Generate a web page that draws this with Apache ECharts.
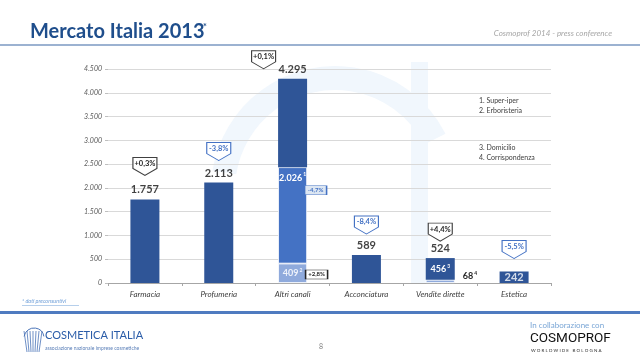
<!DOCTYPE html>
<html>
<head>
<meta charset="utf-8">
<script src="https://cdn.jsdelivr.net/npm/echarts@6/dist/echarts.min.js"></script>
<style>
  html, body { margin: 0; padding: 0; background: #fff; }
  #chart { width: 640px; height: 360px; }
</style>
</head>
<body>
<div id="chart"></div>
<script>
// dati (milioni di euro)
const categories = ['Farmacia', 'Profumeria', 'Altri canali', 'Acconciatura', 'Vendite dirette', 'Estetica'];
const darkValues = [1757, 2113, 1860, 589, 456, 242];
const midValues = [null, null, 2026, null, null, null];
const lightValues = [null, null, 409, null, 68, null];
const totals = [1757, 2113, 4295, 589, 524, 242];
const changes = ['+0,3%', '-3,8%', '+0,1%', '-8,4%', '+4,4%', '-5,5%'];
const darkNotes = [null, null, null, null, '3', null];
const midNotes = [null, null, '1', null, null, null];
const lightNotes = [null, null, '2', null, '4', null];
const subChanges = ['-4,7%', '+2,8%']; // Super-iper, Erboristeria
const notes = ['1. Super-iper', '2. Erboristeria', '3. Domicilio', '4. Corrispondenza'];

const DARK = '#2F5597';
const MID = '#4472C4';
const LIGHT = '#8FAADC';
const FONT = 'Lato';

const fmt = (v) => String(v).replace(/\B(?=(\d{3})+(?!\d))/g, '.');
const sup = { fontSize: 5, verticalAlign: 'top', padding: [0, 0, 6, 1] };

// label con esponente
const noteLabel = (val, note, opts) => ({
	show: true,
	fontFamily: FONT,
	fontWeight: 'bold',
	fontSize: 9,
	color: '#fff',
	formatter: '{v|' + fmt(val) + '}{s|' + note + '}',
	rich: {
		v: { fontSize: opts.fontSize || 9, fontWeight: 'bold', color: opts.color || '#fff', fontFamily: FONT },
		s: Object.assign({ color: opts.color || '#fff' }, sup),
	},
	...opts,
});

const darkData = darkValues.map((v, i) => {
	if (darkNotes[i]) return { value: v, label: noteLabel(v, darkNotes[i], { position: 'inside' }) };
	return v;
});
const midData = midValues.map((v, i) => {
	if (v == null) return null;
	return { value: v, label: noteLabel(v, midNotes[i], { position: 'insideTop', distance: 5 }) };
});
const lightData = lightValues.map((v, i) => {
	if (v == null) return null;
	if (i === 4) {
		return { value: v, label: noteLabel(v, lightNotes[i], { position: 'right', offset: [3, -5], color: '#262626', fontSize: 9 }) };
	}
	return { value: v, label: noteLabel(v, lightNotes[i], { position: 'inside', color: '#EEF2FA' }) };
});

// totali sopra le barre (Estetica dentro la barra)
const totalData = totals.map((v, i) => {
	if (i === 5) {
		return { value: v, label: { position: 'bottom', distance: 0, color: '#fff' } };
	}
	return v;
});

// badge a freccia (variazioni)
const badgeShift = [[0, -33], [0, -31], [-29, -19], [0, -30], [0, -26], [0, -22]];
const pentagon = 'path://M0 0H24V11L12 18L0 11Z';
const badges = changes.map((c, i) => {
	const neg = c.charAt(0) === '-';
	return {
		coord: [categories[i], totals[i]],
		symbol: pentagon,
		symbolSize: [24, 18],
		symbolOffset: badgeShift[i],
		itemStyle: { color: '#fff', borderColor: neg ? MID : '#404040', borderWidth: 1 },
		label: {
			show: true,
			position: 'inside',
			offset: [0, -3],
			formatter: c,
			fontFamily: FONT,
			fontSize: 7.5,
			fontWeight: 'bold',
			color: neg ? MID : '#262626',
		},
	};
});
// badge piccoli su Altri canali
const subBadges = [
	{ coord: [categories[2], lightValues[2] + midValues[2]], text: subChanges[0], off: [23, 23], neg: true },
	{ coord: [categories[2], lightValues[2]], text: subChanges[1], off: [24, 11], neg: false },
].map((b) => ({
	coord: b.coord,
	symbol: 'rect',
	symbolSize: [22, 9],
	symbolOffset: b.off,
	itemStyle: { color: b.neg ? '#DCE6F2' : '#fff', borderColor: b.neg ? MID : '#262626', borderWidth: 1 },
	label: {
		show: true,
		position: 'inside',
		formatter: b.text,
		fontFamily: FONT,
		fontSize: 6,
		fontWeight: 'bold',
		color: b.neg ? MID : '#262626',
	},
}));

const myChart = echarts.init(document.getElementById('chart'));
const option = {
	backgroundColor: '#fff',
	animation: false,
	textStyle: { fontFamily: FONT },
	grid: { left: 108, right: 89, top: 69, bottom: 77 },
	xAxis: {
		type: 'category',
		data: categories,
		axisLine: { lineStyle: { color: '#A6A6A6' } },
		axisTick: { show: true, length: 3, lineStyle: { color: '#A6A6A6' } },
		axisLabel: { fontStyle: 'italic', fontSize: 8, color: '#404040', margin: 7, fontFamily: FONT },
	},
	yAxis: {
		type: 'value',
		min: 0,
		max: 4500,
		interval: 500,
		axisLine: { show: false },
		axisTick: { show: true, length: 3, lineStyle: { color: '#BFBFBF' } },
		axisLabel: { fontStyle: 'italic', fontSize: 7, color: '#595959', margin: 6, fontFamily: FONT, formatter: fmt },
		splitLine: { lineStyle: { color: '#D9D9D9' } },
	},
	series: [
		{
			name: 'light',
			type: 'bar',
			stack: 'tot',
			barWidth: 29,
			data: lightData,
			itemStyle: { color: LIGHT, borderColor: '#fff', borderWidth: 0.8 },
		},
		{
			name: 'mid',
			type: 'bar',
			stack: 'tot',
			barWidth: 29,
			data: midData,
			itemStyle: { color: MID, borderColor: '#fff', borderWidth: 0.8 },
		},
		{
			name: 'dark',
			type: 'bar',
			stack: 'tot',
			barWidth: 29,
			data: darkData,
			itemStyle: { color: DARK },
		},
		{
			name: 'totali',
			type: 'scatter',
			symbolSize: 0,
			data: totalData,
			z: 5,
			label: {
				show: true,
				position: 'top',
				distance: 4,
				fontFamily: FONT,
				fontWeight: 'bold',
				fontSize: 11,
				color: '#111',
				formatter: (p) => fmt(p.value),
			},
			markPoint: { silent: true, data: badges.concat(subBadges) },
		},
	],
	graphic: [
		// filigrana
		{
			type: 'arc', z: -10, silent: true,
			shape: { cx: 335, cy: 190, r: 112, startAngle: Math.PI * 1.05, endAngle: Math.PI * 1.85 },
			style: { fill: 'none', stroke: '#F1F7FD', lineWidth: 24 },
		},
		{ type: 'rect', z: -10, silent: true, shape: { x: 411, y: 62, width: 17, height: 222 }, style: { fill: '#F1F7FD' } },
		// intestazione
		{ type: 'text', left: 30, top: 22, style: { text: 'Mercato Italia 2013', font: 'bold 20px Lato', fill: '#1F4E8C' } },
		{ type: 'text', left: 203, top: 23, style: { text: '*', font: 'bold 9px Lato', fill: '#1F4E8C' } },
		{ type: 'text', right: 28, top: 29, style: { text: 'Cosmoprof 2014 - press conference', font: 'italic 8px Lato', fill: '#A6A6A6' } },
		{ type: 'rect', shape: { x: 0, y: 44, width: 640, height: 2 }, style: { fill: '#9CB2D1' } },
		// note canali
		{ type: 'text', left: 479, top: 96, style: { text: notes[0] + '\n' + notes[1], font: '7px Lato', fill: '#404040', lineHeight: 10 } },
		{ type: 'text', left: 479, top: 143, style: { text: notes[2] + '\n' + notes[3], font: '7px Lato', fill: '#404040', lineHeight: 10 } },
		// piede
		{ type: 'text', left: 22, top: 298, style: { text: '* dati preconsuntivi', font: 'italic 5.5px Lato', fill: '#6F9FD8' } },
		{ type: 'rect', shape: { x: 22, y: 305, width: 57, height: 0.6 }, style: { fill: '#6F9FD8' } },
		{ type: 'rect', shape: { x: 0, y: 311, width: 640, height: 3 }, style: { fill: '#4F7BC0' } },
		{ type: 'text', left: 45, top: 330, style: { text: 'COSMETICA ITALIA', font: '11px Lato', fill: '#2A5CA8' } },
		{ type: 'text', left: 45, top: 346, style: { text: 'associazione nazionale imprese cosmetiche', font: '5px Lato', fill: '#5A7FB8' } },
		{ type: 'text', left: 319, top: 343, style: { text: '8', font: '7px Lato', fill: '#7F7F7F' } },
		{ type: 'text', left: 530, top: 321, style: { text: 'In collaborazione con', font: '8px Lato', fill: '#7AA6D6' } },
		{ type: 'text', left: 530, top: 332, style: { text: 'COSMOPROF', font: '13.5px Roboto', fill: '#111' } },
		{ type: 'text', left: 531, top: 348, style: { text: 'W O R L D W I D E   B O L O G N A', font: '4.5px Lato', fill: '#333' } },
	],
};

// logo Cosmetica Italia (linee a ventaglio)
for (let k = 0; k < 7; k++) {
	option.graphic.push({
		type: 'line', silent: true,
		shape: { x1: 24 + k * 3, y1: 331, x2: 27 + k * 2, y2: 352 },
		style: { stroke: '#4A74B8', lineWidth: 0.8 },
	});
}
option.graphic.push({ type: 'arc', silent: true, shape: { cx: 34, cy: 338, r: 10, startAngle: Math.PI * 1.05, endAngle: Math.PI * 1.95 }, style: { fill: 'none', stroke: '#4A74B8', lineWidth: 1 } });

myChart.setOption(option);
</script>
</body>
</html>
